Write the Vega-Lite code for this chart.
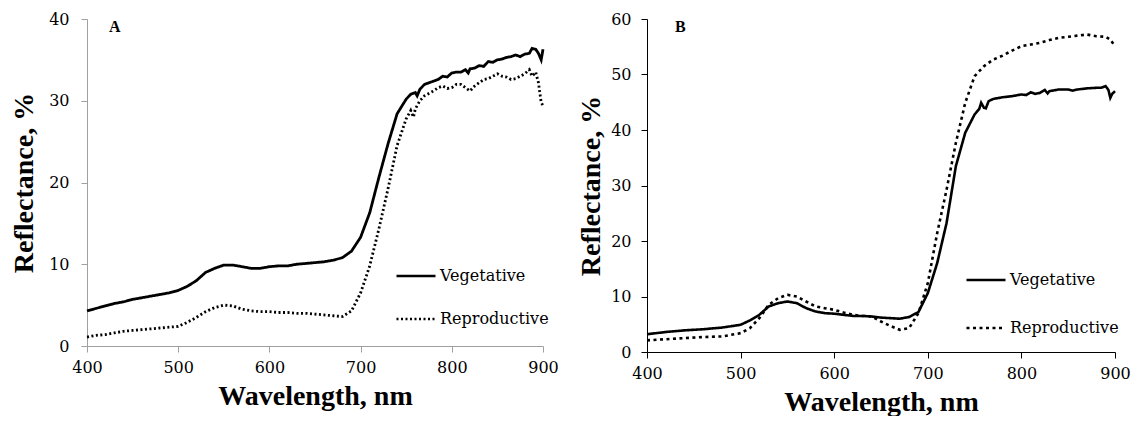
{
  "$schema": "https://vega.github.io/schema/vega-lite/v6.json",
  "padding": {"left": 10, "top": 11, "right": 0, "bottom": 0},
  "background": "white",
  "spacing": 18,
  "config": {
    "view": {"stroke": null},
    "font": "DejaVu Serif",
    "axis": {
      "grid": false,
      "labelFont": "DejaVu Serif",
      "labelFontSize": 16,
      "labelColor": "#000",
      "titleFont": "Liberation Serif",
      "titleFontSize": 28,
      "titleFontWeight": "bold",
      "titleColor": "#000",
      "tickSize": 6,
      "labelFlush": false,
      "labelOverlap": false
    },
    "legend": {
      "labelFont": "DejaVu Serif",
      "labelFontSize": 16,
      "labelColor": "#000",
      "symbolType": "stroke",
      "symbolStrokeColor": "#000",
      "symbolSize": 1521,
      "symbolStrokeWidth": 2.5,
      "labelOffset": 3,
      "padding": 0
    }
  },
  "datasets": {
    "A": [
      {"wl":400,"r":4.3,"s":"Vegetative"},{"wl":410,"r":4.6,"s":"Vegetative"},{"wl":420,"r":4.9,"s":"Vegetative"},{"wl":430,"r":5.2,"s":"Vegetative"},{"wl":440,"r":5.4,"s":"Vegetative"},{"wl":450,"r":5.7,"s":"Vegetative"},{"wl":460,"r":5.9,"s":"Vegetative"},{"wl":470,"r":6.1,"s":"Vegetative"},{"wl":480,"r":6.3,"s":"Vegetative"},{"wl":490,"r":6.5,"s":"Vegetative"},{"wl":500,"r":6.8,"s":"Vegetative"},{"wl":510,"r":7.3,"s":"Vegetative"},{"wl":520,"r":8.0,"s":"Vegetative"},{"wl":530,"r":9.0,"s":"Vegetative"},{"wl":540,"r":9.5,"s":"Vegetative"},{"wl":550,"r":9.9,"s":"Vegetative"},{"wl":560,"r":9.9,"s":"Vegetative"},{"wl":570,"r":9.7,"s":"Vegetative"},{"wl":580,"r":9.5,"s":"Vegetative"},{"wl":590,"r":9.5,"s":"Vegetative"},{"wl":600,"r":9.7,"s":"Vegetative"},{"wl":610,"r":9.8,"s":"Vegetative"},{"wl":620,"r":9.8,"s":"Vegetative"},{"wl":630,"r":10.0,"s":"Vegetative"},{"wl":640,"r":10.1,"s":"Vegetative"},{"wl":650,"r":10.2,"s":"Vegetative"},{"wl":660,"r":10.3,"s":"Vegetative"},{"wl":670,"r":10.5,"s":"Vegetative"},{"wl":680,"r":10.8,"s":"Vegetative"},{"wl":690,"r":11.6,"s":"Vegetative"},{"wl":700,"r":13.3,"s":"Vegetative"},{"wl":710,"r":16.3,"s":"Vegetative"},{"wl":720,"r":20.6,"s":"Vegetative"},{"wl":730,"r":24.7,"s":"Vegetative"},{"wl":740,"r":28.4,"s":"Vegetative"},{"wl":750,"r":30.2,"s":"Vegetative"},{"wl":755,"r":30.8,"s":"Vegetative"},{"wl":760,"r":31.0,"s":"Vegetative"},{"wl":762,"r":30.6,"s":"Vegetative"},{"wl":765,"r":31.4,"s":"Vegetative"},{"wl":770,"r":32.0,"s":"Vegetative"},{"wl":775,"r":32.2,"s":"Vegetative"},{"wl":780,"r":32.4,"s":"Vegetative"},{"wl":785,"r":32.6,"s":"Vegetative"},{"wl":790,"r":33.0,"s":"Vegetative"},{"wl":795,"r":32.9,"s":"Vegetative"},{"wl":800,"r":33.4,"s":"Vegetative"},{"wl":805,"r":33.5,"s":"Vegetative"},{"wl":810,"r":33.5,"s":"Vegetative"},{"wl":815,"r":33.8,"s":"Vegetative"},{"wl":818,"r":33.4,"s":"Vegetative"},{"wl":820,"r":33.9,"s":"Vegetative"},{"wl":825,"r":34.0,"s":"Vegetative"},{"wl":830,"r":34.3,"s":"Vegetative"},{"wl":835,"r":34.2,"s":"Vegetative"},{"wl":840,"r":34.8,"s":"Vegetative"},{"wl":845,"r":34.7,"s":"Vegetative"},{"wl":850,"r":35.0,"s":"Vegetative"},{"wl":855,"r":35.1,"s":"Vegetative"},{"wl":860,"r":35.3,"s":"Vegetative"},{"wl":865,"r":35.4,"s":"Vegetative"},{"wl":870,"r":35.6,"s":"Vegetative"},{"wl":875,"r":35.4,"s":"Vegetative"},{"wl":880,"r":35.7,"s":"Vegetative"},{"wl":885,"r":35.8,"s":"Vegetative"},{"wl":888,"r":36.4,"s":"Vegetative"},{"wl":892,"r":36.3,"s":"Vegetative"},{"wl":895,"r":35.8,"s":"Vegetative"},{"wl":898,"r":35.0,"s":"Vegetative"},{"wl":900,"r":36.3,"s":"Vegetative"},
      {"wl":400,"r":1.1,"s":"Reproductive"},{"wl":410,"r":1.3,"s":"Reproductive"},{"wl":420,"r":1.4,"s":"Reproductive"},{"wl":430,"r":1.6,"s":"Reproductive"},{"wl":440,"r":1.8,"s":"Reproductive"},{"wl":450,"r":1.9,"s":"Reproductive"},{"wl":460,"r":2.0,"s":"Reproductive"},{"wl":470,"r":2.1,"s":"Reproductive"},{"wl":480,"r":2.2,"s":"Reproductive"},{"wl":490,"r":2.3,"s":"Reproductive"},{"wl":500,"r":2.4,"s":"Reproductive"},{"wl":510,"r":2.9,"s":"Reproductive"},{"wl":520,"r":3.5,"s":"Reproductive"},{"wl":530,"r":4.2,"s":"Reproductive"},{"wl":540,"r":4.7,"s":"Reproductive"},{"wl":550,"r":5.0,"s":"Reproductive"},{"wl":560,"r":4.9,"s":"Reproductive"},{"wl":570,"r":4.5,"s":"Reproductive"},{"wl":580,"r":4.3,"s":"Reproductive"},{"wl":590,"r":4.2,"s":"Reproductive"},{"wl":600,"r":4.2,"s":"Reproductive"},{"wl":610,"r":4.1,"s":"Reproductive"},{"wl":620,"r":4.1,"s":"Reproductive"},{"wl":630,"r":4.0,"s":"Reproductive"},{"wl":640,"r":4.0,"s":"Reproductive"},{"wl":650,"r":3.9,"s":"Reproductive"},{"wl":660,"r":3.8,"s":"Reproductive"},{"wl":670,"r":3.7,"s":"Reproductive"},{"wl":680,"r":3.6,"s":"Reproductive"},{"wl":690,"r":4.3,"s":"Reproductive"},{"wl":700,"r":6.5,"s":"Reproductive"},{"wl":710,"r":9.8,"s":"Reproductive"},{"wl":720,"r":14.3,"s":"Reproductive"},{"wl":730,"r":19.2,"s":"Reproductive"},{"wl":740,"r":24.5,"s":"Reproductive"},{"wl":750,"r":27.8,"s":"Reproductive"},{"wl":755,"r":28.8,"s":"Reproductive"},{"wl":758,"r":28.0,"s":"Reproductive"},{"wl":760,"r":29.0,"s":"Reproductive"},{"wl":765,"r":30.0,"s":"Reproductive"},{"wl":770,"r":30.6,"s":"Reproductive"},{"wl":780,"r":31.2,"s":"Reproductive"},{"wl":785,"r":31.6,"s":"Reproductive"},{"wl":790,"r":31.8,"s":"Reproductive"},{"wl":795,"r":31.5,"s":"Reproductive"},{"wl":800,"r":31.6,"s":"Reproductive"},{"wl":805,"r":32.0,"s":"Reproductive"},{"wl":810,"r":32.0,"s":"Reproductive"},{"wl":815,"r":31.6,"s":"Reproductive"},{"wl":820,"r":31.2,"s":"Reproductive"},{"wl":825,"r":31.8,"s":"Reproductive"},{"wl":830,"r":32.2,"s":"Reproductive"},{"wl":835,"r":32.6,"s":"Reproductive"},{"wl":840,"r":32.7,"s":"Reproductive"},{"wl":845,"r":33.0,"s":"Reproductive"},{"wl":850,"r":33.3,"s":"Reproductive"},{"wl":855,"r":33.0,"s":"Reproductive"},{"wl":860,"r":32.9,"s":"Reproductive"},{"wl":865,"r":32.6,"s":"Reproductive"},{"wl":870,"r":32.7,"s":"Reproductive"},{"wl":875,"r":33.0,"s":"Reproductive"},{"wl":880,"r":33.3,"s":"Reproductive"},{"wl":885,"r":33.8,"s":"Reproductive"},{"wl":888,"r":33.0,"s":"Reproductive"},{"wl":892,"r":33.5,"s":"Reproductive"},{"wl":895,"r":32.2,"s":"Reproductive"},{"wl":898,"r":29.8,"s":"Reproductive"},{"wl":900,"r":29.4,"s":"Reproductive"}
    ],
    "B": [
      {"wl":400,"r":3.2,"s":"Vegetative"},{"wl":420,"r":3.6,"s":"Vegetative"},{"wl":440,"r":3.9,"s":"Vegetative"},{"wl":460,"r":4.1,"s":"Vegetative"},{"wl":480,"r":4.4,"s":"Vegetative"},{"wl":500,"r":4.9,"s":"Vegetative"},{"wl":510,"r":5.7,"s":"Vegetative"},{"wl":520,"r":6.7,"s":"Vegetative"},{"wl":530,"r":8.2,"s":"Vegetative"},{"wl":540,"r":8.8,"s":"Vegetative"},{"wl":550,"r":9.1,"s":"Vegetative"},{"wl":560,"r":8.8,"s":"Vegetative"},{"wl":570,"r":7.9,"s":"Vegetative"},{"wl":580,"r":7.3,"s":"Vegetative"},{"wl":590,"r":7.0,"s":"Vegetative"},{"wl":600,"r":6.9,"s":"Vegetative"},{"wl":610,"r":6.7,"s":"Vegetative"},{"wl":620,"r":6.5,"s":"Vegetative"},{"wl":630,"r":6.5,"s":"Vegetative"},{"wl":640,"r":6.4,"s":"Vegetative"},{"wl":650,"r":6.2,"s":"Vegetative"},{"wl":660,"r":6.1,"s":"Vegetative"},{"wl":670,"r":6.0,"s":"Vegetative"},{"wl":680,"r":6.3,"s":"Vegetative"},{"wl":690,"r":7.2,"s":"Vegetative"},{"wl":700,"r":10.6,"s":"Vegetative"},{"wl":710,"r":16.0,"s":"Vegetative"},{"wl":720,"r":23.2,"s":"Vegetative"},{"wl":730,"r":33.5,"s":"Vegetative"},{"wl":740,"r":39.5,"s":"Vegetative"},{"wl":750,"r":42.8,"s":"Vegetative"},{"wl":755,"r":43.8,"s":"Vegetative"},{"wl":757,"r":44.9,"s":"Vegetative"},{"wl":760,"r":44.0,"s":"Vegetative"},{"wl":762,"r":43.9,"s":"Vegetative"},{"wl":765,"r":45.2,"s":"Vegetative"},{"wl":770,"r":45.6,"s":"Vegetative"},{"wl":780,"r":45.9,"s":"Vegetative"},{"wl":790,"r":46.1,"s":"Vegetative"},{"wl":800,"r":46.4,"s":"Vegetative"},{"wl":805,"r":46.3,"s":"Vegetative"},{"wl":810,"r":46.8,"s":"Vegetative"},{"wl":815,"r":46.5,"s":"Vegetative"},{"wl":820,"r":46.7,"s":"Vegetative"},{"wl":825,"r":47.2,"s":"Vegetative"},{"wl":828,"r":46.6,"s":"Vegetative"},{"wl":830,"r":47.0,"s":"Vegetative"},{"wl":840,"r":47.3,"s":"Vegetative"},{"wl":850,"r":47.3,"s":"Vegetative"},{"wl":855,"r":47.1,"s":"Vegetative"},{"wl":860,"r":47.3,"s":"Vegetative"},{"wl":870,"r":47.5,"s":"Vegetative"},{"wl":880,"r":47.6,"s":"Vegetative"},{"wl":885,"r":47.6,"s":"Vegetative"},{"wl":890,"r":47.9,"s":"Vegetative"},{"wl":893,"r":47.2,"s":"Vegetative"},{"wl":895,"r":45.8,"s":"Vegetative"},{"wl":897,"r":46.5,"s":"Vegetative"},{"wl":900,"r":47.0,"s":"Vegetative"},
      {"wl":400,"r":2.1,"s":"Reproductive"},{"wl":420,"r":2.3,"s":"Reproductive"},{"wl":440,"r":2.5,"s":"Reproductive"},{"wl":460,"r":2.7,"s":"Reproductive"},{"wl":480,"r":2.8,"s":"Reproductive"},{"wl":500,"r":3.4,"s":"Reproductive"},{"wl":510,"r":4.3,"s":"Reproductive"},{"wl":520,"r":6.1,"s":"Reproductive"},{"wl":530,"r":8.5,"s":"Reproductive"},{"wl":540,"r":9.7,"s":"Reproductive"},{"wl":550,"r":10.3,"s":"Reproductive"},{"wl":560,"r":10.0,"s":"Reproductive"},{"wl":570,"r":9.1,"s":"Reproductive"},{"wl":580,"r":8.2,"s":"Reproductive"},{"wl":590,"r":7.9,"s":"Reproductive"},{"wl":600,"r":7.6,"s":"Reproductive"},{"wl":610,"r":7.1,"s":"Reproductive"},{"wl":620,"r":6.7,"s":"Reproductive"},{"wl":630,"r":6.5,"s":"Reproductive"},{"wl":640,"r":6.4,"s":"Reproductive"},{"wl":650,"r":5.5,"s":"Reproductive"},{"wl":660,"r":4.7,"s":"Reproductive"},{"wl":670,"r":4.0,"s":"Reproductive"},{"wl":680,"r":4.3,"s":"Reproductive"},{"wl":690,"r":7.0,"s":"Reproductive"},{"wl":700,"r":12.4,"s":"Reproductive"},{"wl":710,"r":21.4,"s":"Reproductive"},{"wl":720,"r":29.2,"s":"Reproductive"},{"wl":730,"r":37.7,"s":"Reproductive"},{"wl":740,"r":44.9,"s":"Reproductive"},{"wl":750,"r":49.7,"s":"Reproductive"},{"wl":760,"r":51.5,"s":"Reproductive"},{"wl":770,"r":52.7,"s":"Reproductive"},{"wl":780,"r":53.4,"s":"Reproductive"},{"wl":790,"r":54.3,"s":"Reproductive"},{"wl":800,"r":55.1,"s":"Reproductive"},{"wl":810,"r":55.4,"s":"Reproductive"},{"wl":820,"r":55.7,"s":"Reproductive"},{"wl":830,"r":56.2,"s":"Reproductive"},{"wl":840,"r":56.6,"s":"Reproductive"},{"wl":850,"r":56.8,"s":"Reproductive"},{"wl":860,"r":57.0,"s":"Reproductive"},{"wl":870,"r":57.2,"s":"Reproductive"},{"wl":880,"r":56.9,"s":"Reproductive"},{"wl":890,"r":56.8,"s":"Reproductive"},{"wl":895,"r":56.3,"s":"Reproductive"},{"wl":900,"r":55.1,"s":"Reproductive"}
    ]
  },
  "hconcat": [
    {
      "width": 456,
      "height": 327,
      "layer": [
        {
          "data": {"name": "A"},
          "mark": {"type": "line", "color": "#000", "strokeWidth": 2.8},
          "encoding": {
            "x": {"field": "wl", "type": "quantitative", "scale": {"domain": [400, 900], "nice": false},
                  "axis": {"title": "Wavelength, nm", "values": [400,500,600,700,800,900], "domainColor": "#a0a0a0", "tickColor": "#a0a0a0", "labelPadding": 7, "titlePadding": 7}},
            "y": {"field": "r", "type": "quantitative", "scale": {"domain": [0, 40], "nice": false},
                  "axis": {"title": "Reflectance, %", "values": [0,10,20,30,40], "domainColor": "#a0a0a0", "tickColor": "#a0a0a0", "labelPadding": 12, "titlePadding": 10}},
            "strokeDash": {"field": "s", "type": "nominal",
                  "scale": {"domain": ["Vegetative", "Reproductive"], "range": [[1, 0], [2, 2.5]]},
                  "legend": {"title": null, "orient": "none", "legendX": 308, "legendY": 236, "rowPadding": 14}},
            "detail": {"field": "s"}
          }
        },
        {
          "data": {"values": [{"wl": 424, "r": 39.0, "label": "A"}]},
          "mark": {"type": "text", "align": "left", "baseline": "middle", "fontWeight": "bold", "fontSize": 16, "font": "Liberation Serif", "color": "#000"},
          "encoding": {
            "x": {"field": "wl", "type": "quantitative"},
            "y": {"field": "r", "type": "quantitative"},
            "text": {"field": "label"}
          }
        }
      ]
    },
    {
      "width": 468,
      "height": 333,
      "layer": [
        {
          "data": {"name": "B"},
          "mark": {"type": "line", "color": "#000", "strokeWidth": 2.6},
          "encoding": {
            "x": {"field": "wl", "type": "quantitative", "scale": {"domain": [400, 900], "nice": false},
                  "axis": {"title": "Wavelength, nm", "values": [400,500,600,700,800,900], "domainColor": "#000", "tickColor": "#000", "labelPadding": 7, "titlePadding": 7}},
            "y": {"field": "r", "type": "quantitative", "scale": {"domain": [0, 60], "nice": false},
                  "axis": {"title": "Reflectance, %", "values": [0,10,20,30,40,50,60], "domainColor": "#000", "tickColor": "#000", "labelPadding": 10, "titlePadding": 5}},
            "strokeDash": {"field": "s", "type": "nominal",
                  "scale": {"domain": ["Vegetative", "Reproductive"], "range": [[1, 0], [3, 3.5]]},
                  "legend": {"title": null, "orient": "none", "legendX": 318, "legendY": 240, "rowPadding": 19}},
            "detail": {"field": "s"}
          }
        },
        {
          "data": {"values": [{"wl": 430, "r": 58.5, "label": "B"}]},
          "mark": {"type": "text", "align": "left", "baseline": "middle", "fontWeight": "bold", "fontSize": 16, "font": "Liberation Serif", "color": "#000"},
          "encoding": {
            "x": {"field": "wl", "type": "quantitative"},
            "y": {"field": "r", "type": "quantitative"},
            "text": {"field": "label"}
          }
        }
      ]
    }
  ],
  "resolve": {"scale": {"strokeDash": "independent", "x": "independent", "y": "independent"}, "legend": {"strokeDash": "independent"}}
}
